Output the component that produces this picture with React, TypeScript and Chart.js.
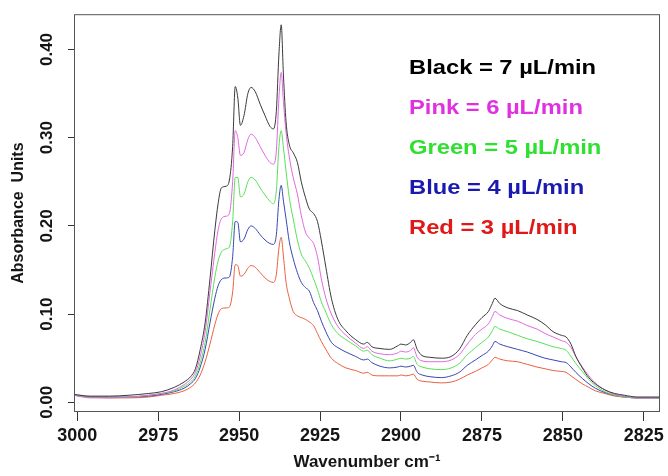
import { useEffect, useRef } from "react";
import { Chart, registerables } from "chart.js";

Chart.register(...registerables);

const FONT_FAMILY = "'Liberation Sans', Arial, Helvetica, sans-serif";

// Wavenumber axis (cm-1), descending across the spectrum
const wavenumbers = [
  3001, 2996, 2990, 2984, 2978, 2974, 2970, 2967, 2965, 2963.5,
  2962, 2960.5, 2959, 2957.5, 2956.5, 2955.5, 2954, 2953, 2952, 2951.2,
  2950.4, 2949.6, 2948.5, 2947.3, 2946.3, 2945, 2943.5, 2942, 2940.5, 2939.4,
  2938.5, 2937.7, 2937, 2936.3, 2935.5, 2934.5, 2933.3, 2932, 2930.8, 2929.5,
  2928.3, 2927, 2925.8, 2924.6, 2923.2, 2921.5, 2919.5, 2917, 2914, 2911.5,
  2910.4, 2909, 2906.5, 2903.5, 2901, 2900, 2898.6, 2897, 2896.2, 2895,
  2893.5, 2891, 2887.5, 2884.5, 2882, 2879.5, 2877, 2875, 2873, 2871.8,
  2871, 2869.5, 2867, 2864, 2861, 2858, 2855.5, 2853, 2850.5, 2849,
  2847.5, 2846, 2844, 2842, 2840, 2837, 2834, 2831, 2827, 2823,
  2820,
];

// Absorbance at 7 uL/min
const flow7 = [
  0.009, 0.007, 0.007, 0.008, 0.010, 0.012, 0.017, 0.023, 0.029, 0.038,
  0.060, 0.090, 0.140, 0.195, 0.225, 0.243, 0.245, 0.252, 0.290, 0.358,
  0.345, 0.314, 0.325, 0.350, 0.357, 0.352, 0.338, 0.325, 0.313, 0.310,
  0.330, 0.395, 0.428, 0.370, 0.318, 0.292, 0.283, 0.272, 0.250, 0.232,
  0.219, 0.214, 0.205, 0.183, 0.153, 0.118, 0.094, 0.081, 0.071, 0.066,
  0.068, 0.063, 0.061, 0.060, 0.064, 0.066, 0.065, 0.068, 0.071, 0.060,
  0.053, 0.051, 0.050, 0.052, 0.060, 0.076, 0.088, 0.096, 0.103, 0.112,
  0.118, 0.112, 0.107, 0.104, 0.099, 0.094, 0.088, 0.080, 0.076, 0.074,
  0.066, 0.052, 0.039, 0.028, 0.021, 0.014, 0.010, 0.008, 0.006, 0.006,
  0.006,
];

// Absorbance at 6 uL/min
const flow6 = [
  0.008, 0.005, 0.005, 0.006, 0.008, 0.010, 0.014, 0.020, 0.026, 0.034,
  0.052, 0.080, 0.125, 0.170, 0.195, 0.208, 0.211, 0.214, 0.250, 0.308,
  0.300, 0.280, 0.283, 0.298, 0.304, 0.300, 0.290, 0.280, 0.272, 0.270,
  0.285, 0.345, 0.374, 0.340, 0.306, 0.278, 0.255, 0.236, 0.212, 0.193,
  0.186, 0.180, 0.165, 0.140, 0.118, 0.100, 0.086, 0.076, 0.067, 0.061,
  0.063, 0.058, 0.055, 0.054, 0.056, 0.058, 0.057, 0.059, 0.062, 0.051,
  0.047, 0.046, 0.046, 0.048, 0.054, 0.066, 0.077, 0.083, 0.089, 0.097,
  0.103, 0.099, 0.095, 0.092, 0.087, 0.083, 0.078, 0.074, 0.070, 0.068,
  0.062, 0.052, 0.040, 0.030, 0.022, 0.014, 0.009, 0.007, 0.005, 0.005,
  0.005,
];

// Absorbance at 5 uL/min
const flow5 = [
  0.008, 0.006, 0.006, 0.006, 0.008, 0.010, 0.013, 0.018, 0.023, 0.030,
  0.045, 0.068, 0.105, 0.142, 0.160, 0.170, 0.174, 0.176, 0.205, 0.255,
  0.255, 0.233, 0.236, 0.250, 0.255, 0.252, 0.243, 0.235, 0.228, 0.225,
  0.240, 0.290, 0.308, 0.288, 0.262, 0.232, 0.208, 0.184, 0.168, 0.160,
  0.152, 0.140, 0.128, 0.114, 0.102, 0.088, 0.078, 0.071, 0.064, 0.058,
  0.059, 0.054, 0.050, 0.047, 0.049, 0.050, 0.049, 0.050, 0.052, 0.043,
  0.040, 0.038, 0.037, 0.039, 0.044, 0.054, 0.062, 0.068, 0.074, 0.081,
  0.086, 0.083, 0.080, 0.076, 0.072, 0.069, 0.066, 0.063, 0.061, 0.059,
  0.052, 0.044, 0.035, 0.026, 0.019, 0.012, 0.008, 0.006, 0.005, 0.005,
  0.005,
];

// Absorbance at 4 uL/min
const flow4 = [
  0.008, 0.006, 0.006, 0.006, 0.007, 0.009, 0.012, 0.016, 0.021, 0.027,
  0.040, 0.060, 0.090, 0.118, 0.132, 0.139, 0.141, 0.142, 0.165, 0.205,
  0.204, 0.182, 0.185, 0.196, 0.200, 0.197, 0.190, 0.184, 0.180, 0.179,
  0.190, 0.230, 0.246, 0.228, 0.208, 0.182, 0.163, 0.147, 0.136, 0.130,
  0.126, 0.113, 0.104, 0.092, 0.080, 0.068, 0.062, 0.057, 0.052, 0.048,
  0.049, 0.045, 0.041, 0.039, 0.040, 0.041, 0.040, 0.041, 0.042, 0.034,
  0.031, 0.029, 0.028, 0.030, 0.034, 0.042, 0.048, 0.053, 0.058, 0.064,
  0.069, 0.066, 0.063, 0.060, 0.057, 0.053, 0.050, 0.048, 0.046, 0.045,
  0.040, 0.034, 0.027, 0.021, 0.016, 0.011, 0.008, 0.006, 0.005, 0.005,
  0.005,
];

// Absorbance at 3 uL/min
const flow3 = [
  0.008, 0.006, 0.005, 0.005, 0.006, 0.008, 0.010, 0.013, 0.017, 0.022,
  0.031, 0.046, 0.066, 0.088, 0.100, 0.106, 0.107, 0.108, 0.125, 0.156,
  0.155, 0.143, 0.145, 0.152, 0.155, 0.153, 0.147, 0.141, 0.137, 0.136,
  0.145, 0.175, 0.187, 0.165, 0.136, 0.118, 0.103, 0.098, 0.096, 0.094,
  0.091, 0.087, 0.078, 0.069, 0.060, 0.050, 0.044, 0.039, 0.036, 0.033,
  0.034, 0.031, 0.030, 0.030, 0.030, 0.031, 0.030, 0.031, 0.032, 0.026,
  0.024, 0.023, 0.022, 0.023, 0.026, 0.031, 0.035, 0.039, 0.043, 0.048,
  0.051, 0.049, 0.047, 0.046, 0.043, 0.040, 0.038, 0.036, 0.035, 0.034,
  0.030, 0.026, 0.021, 0.017, 0.013, 0.010, 0.007, 0.006, 0.005, 0.005,
  0.005,
];

const seriesLabels = [
  "Black = 7 µL/min",
  "Pink = 6 µL/min",
  "Green = 5 µL/min",
  "Blue = 4 µL/min",
  "Red = 3 µL/min",
];
const seriesValues = [flow7, flow6, flow5, flow4, flow3];
const lineColors = ["#3a3a3a", "#e068e0", "#58e058", "#3848b0", "#e86040"];
const labelColors = ["#000000", "#e030e0", "#30e030", "#1a1ab0", "#e01818"];

const xTicks = [3000, 2975, 2950, 2925, 2900, 2875, 2850, 2825];
const yTicks = [0, 0.1, 0.2, 0.3, 0.4];

// Frame drawn around the plotting area
const framePlugin = {
  id: "plotFrame",
  afterDraw(chart: any) {
    const { ctx, chartArea: a } = chart;
    ctx.save();
    ctx.strokeStyle = "#555555";
    ctx.lineWidth = 1;
    ctx.strokeRect(a.left + 0.5, a.top + 0.5, a.right - a.left - 1, a.bottom - a.top - 1);
    ctx.restore();
  },
};

// Coloured text key listing each flow rate (slightly widened lettering)
const rateKeyPlugin = {
  id: "rateKey",
  afterDraw(chart: any, _args: any, opts: any) {
    const { ctx, chartArea: a } = chart;
    ctx.save();
    ctx.font = `bold ${opts.size}px ${FONT_FAMILY}`;
    ctx.textAlign = "left";
    ctx.textBaseline = "middle";
    chart.data.datasets.forEach((ds: any, i: number) => {
      ctx.save();
      ctx.translate(a.left + opts.offsetX, a.top + opts.offsetY + i * opts.rowGap);
      ctx.scale(opts.stretch, 1);
      ctx.fillStyle = labelColors[i];
      ctx.fillText(ds.label, 0, 0);
      ctx.restore();
    });
    ctx.restore();
  },
};

export default function App() {
  const canvasRef = useRef<HTMLCanvasElement | null>(null);

  useEffect(() => {
    if (!canvasRef.current) return;
    const xFont = { family: FONT_FAMILY, size: 18, weight: "bold" as const };
    const yTickFont = { family: FONT_FAMILY, size: 17, weight: "bold" as const };
    const yTitleFont = { family: FONT_FAMILY, size: 16, weight: "bold" as const };
    const chart = new Chart(canvasRef.current, {
      type: "line",
      data: {
        datasets: seriesValues.map((vals, i) => ({
          label: seriesLabels[i],
          data: wavenumbers.map((w, j) => ({ x: w, y: vals[j] })),
          borderColor: lineColors[i],
          borderWidth: 1,
          pointRadius: 0,
          fill: false,
          cubicInterpolationMode: "monotone" as const,
        })),
      },
      options: {
        responsive: false,
        animation: false,
        layout: { padding: { left: 0, right: 6, top: 14, bottom: 0 } },
        plugins: {
          legend: { display: false },
          tooltip: { enabled: false },
          rateKey: { size: 21, stretch: 1.13, offsetX: 335, offsetY: 54, rowGap: 40 },
        } as any,
        scales: {
          x: {
            type: "linear",
            reverse: true,
            min: 2820,
            max: 3001,
            afterBuildTicks: (s: any) => {
              s.ticks = xTicks.map((v) => ({ value: v }));
            },
            afterFit: (s: any) => {
              s.height = 64;
            },
            border: { display: false },
            grid: {
              display: true,
              drawOnChartArea: false,
              drawTicks: true,
              tickLength: 9,
              color: "#333333",
            },
            ticks: {
              color: "#151515",
              font: xFont,
              padding: 4,
              maxRotation: 0,
              autoSkip: false,
              callback: (v: any) => String(v),
            },
            title: {
              display: true,
              text: "Wavenumber cm⁻¹",
              color: "#151515",
              font: { family: FONT_FAMILY, size: 17, weight: "bold" as const },
              padding: { top: 0, bottom: 3 },
            },
          },
          y: {
            type: "linear",
            min: -0.011,
            max: 0.44,
            afterBuildTicks: (s: any) => {
              s.ticks = yTicks.map((v) => ({ value: v }));
            },
            afterFit: (s: any) => {
              s.width = 74;
            },
            border: { display: false },
            grid: {
              display: true,
              drawOnChartArea: false,
              drawTicks: true,
              tickLength: 6,
              color: "#333333",
            },
            ticks: {
              color: "#151515",
              font: yTickFont,
              padding: 4,
              minRotation: 90,
              maxRotation: 90,
              crossAlign: "center",
              autoSkip: false,
              callback: (v: any) => Number(v).toFixed(2),
            },
            title: {
              display: true,
              text: "Absorbance  Units",
              color: "#151515",
              font: yTitleFont,
              padding: { top: 9, bottom: 0 },
            },
          },
        },
      },
      plugins: [framePlugin, rateKeyPlugin],
    });
    return () => chart.destroy();
  }, []);

  return (
    <div style={{ position: "absolute", left: 0, top: 0, width: 668, height: 476, background: "#ffffff" }}>
      <canvas ref={canvasRef} width={668} height={476} style={{ display: "block" }} />
    </div>
  );
}
